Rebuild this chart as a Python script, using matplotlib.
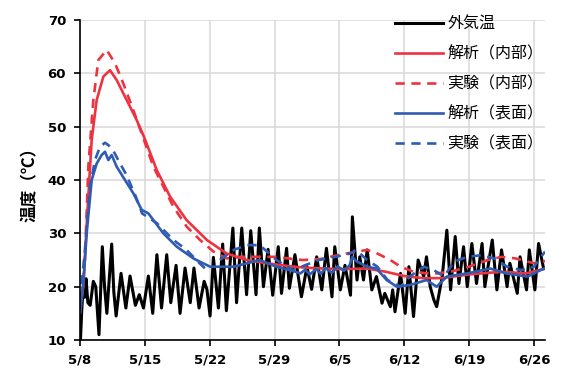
import matplotlib
matplotlib.use('Agg')
import matplotlib.pyplot as plt
import numpy as np

# days after 5/8
tick_days = [0, 7, 14, 21, 28, 35, 42, 49]
tick_labels = ['5/8', '5/15', '5/22', '5/29', '6/5', '6/12', '6/19', '6/26']

# outside air temperature
t_air = [0.0, 0.05, 0.2, 0.35, 0.5, 0.65, 0.85, 1.1, 1.44, 1.7, 2.05, 2.41, 2.65, 2.9,
         3.42, 3.65, 3.9, 4.43, 4.95, 5.4, 5.98, 6.4, 6.85, 7.38, 7.85, 8.3, 8.8,
         9.36, 9.8, 10.37, 10.8, 11.34, 11.9, 12.3, 12.85, 13.4, 13.7, 14.04, 14.4,
         14.94, 15.4, 15.8, 16.5, 16.9, 17.46, 17.98, 18.43, 19.0, 19.36, 19.8, 20.3,
         20.8, 21.4, 21.75, 22.3, 22.6, 23.2, 23.9, 24.5, 25.0, 25.55, 26.1, 26.6,
         27.2, 27.5, 28.1, 28.6, 29.2, 29.4, 29.9, 30.2, 30.6, 31.0, 31.5, 32.0,
         32.6, 32.9, 33.5, 33.75, 34.0, 34.6, 35.1, 35.5, 36.0, 36.5, 37.1, 37.4,
         37.8, 38.2, 38.5, 39.1, 39.6, 40.0, 40.5, 40.9, 41.4, 41.8, 42.3, 42.8,
         43.4, 43.7, 44.5, 45.0, 45.5, 46.1, 46.4, 47.2, 47.5, 48.2, 48.5, 49.1,
         49.5, 50.0]
v_air = [17, 10, 16, 20, 18, 21.5, 17, 16.5, 21, 20, 11, 27.5, 20, 15,
         28, 19, 14.5, 22.5, 16, 22, 16.5, 18.5, 16, 22, 15, 26, 16,
         26, 17, 24, 15, 23.5, 17, 23.5, 16, 21, 19.5, 14.5, 25.5,
         16, 28, 15.5, 31, 17, 31, 18.5, 30.5, 18.5, 31, 20, 27,
         18.4, 27.5, 18.75, 27.2, 19.7, 26, 18.1, 23.75, 19.5, 25.6, 19.4, 27.2,
         18.1, 27.5, 19.4, 24, 18.4, 33.1, 21.25, 25.6, 21.25, 26.9, 19.4, 21.9,
         16.9, 18.75, 16.25, 19.4, 15.3, 22.5, 15, 23.75, 14.4, 25, 21.9, 25.6,
         20, 17.5, 16.25, 21.9, 30.6, 19.4, 29.4, 20.6, 27.5, 20, 28.1, 20.6,
         28.1, 20, 28.75, 19.4, 26.9, 20, 24.4, 18.75, 25.6, 19.4, 26.9, 19.4,
         28.1, 23.75]

# analysis (inner)
t_ana_in = [0.0, 0.36, 0.79, 1.26, 1.8, 2.52, 3.24, 3.96, 5.04, 6.12, 6.91, 8.28, 9.72,
            11.5, 13.7, 15.8, 18.0, 20.2, 23.0, 25.0, 28.0, 31.0, 33.0, 35.0, 37.0,
            39.0, 42.0, 45.5, 48.2, 50.2]
v_ana_in = [16, 20, 33.75, 47.5, 55, 59.4, 60.6, 58.75, 55, 51.25, 48.1, 41.9, 36.9,
            32.5, 28.75, 26.25, 25, 24.4, 23.75, 23.5, 23.3, 23.4, 22.8, 22.0, 21.6,
            21.6, 22.3, 22.8, 22.5, 23.4]

# experiment (inner)
t_exp_in = [0.0, 0.18, 0.54, 0.9, 1.44, 1.98, 2.88, 3.78, 4.68, 5.76, 6.91, 7.92, 9.0,
            10.08, 11.52, 12.96, 14.4, 15.84, 17.3, 19.0, 21.0, 22.5, 24.0, 26.0, 27.0,
            29.0, 31.0, 32.0, 33.5, 34.6, 36.0, 38.0, 40.0, 42.0, 44.0, 45.5, 47.0,
            49.0, 50.2]
v_exp_in = [15, 17.5, 25.6, 42.5, 55, 62.5, 64.4, 61.9, 58.1, 53.1, 47.5, 42.5, 38.75,
            35, 31.25, 28.75, 26.6, 25.3, 25.6, 25.6, 25.6, 25.3, 25, 25.2, 25.6,
            26.3, 26.9, 26.3, 25, 23.75, 22.8, 22.4, 22.8, 23.75, 25, 25.6, 25.3,
            24.4, 24.8]

# analysis (surface)
t_ana_sf = [0.0, 0.36, 0.72, 1.26, 1.8, 2.34, 2.7, 3.06, 3.42, 3.96, 4.86, 5.76, 6.66,
            7.38, 7.92, 9.0, 10.44, 12.24, 14.04, 16.6, 19.4, 21.2, 22.7, 23.8, 24.3,
            24.8, 25.5, 26.0, 26.5, 27.2, 27.8, 28.5, 29.1, 29.4, 29.8, 31.0, 32.0,
            33.1, 34.2, 35.6, 37.4, 38.5, 39.6, 41.8, 44.3, 46.0, 48.3, 49.7, 50.2]
v_ana_sf = [15, 20.6, 30, 40, 43.1, 44.7, 45.3, 43.75, 44.7, 42.5, 40, 37.5, 34.4,
            33.75, 32.5, 30, 27.5, 25.3, 23.75, 23.75, 25, 23.75, 23.1, 22.5, 23.2,
            22.3, 23.3, 22.4, 23.5, 22.6, 23.8, 23.0, 24, 25.6, 24.8, 23.75, 23.4,
            21.25, 20, 20.3, 21.25, 20, 21.9, 22.5, 23.4, 22.5, 21.9, 23.1, 23.4]

# experiment (surface)
t_exp_sf = [0.0, 0.5, 1.08, 1.62, 2.16, 2.7, 3.1, 3.6, 4.2, 5.0, 6.0, 6.7, 8.3, 10.1,
            11.5, 12.9, 13.7, 14.0, 14.5, 15.1, 16.6, 18.0, 19.4, 21.2, 23.0, 24.4,
            25.8, 27.6, 29.2, 29.8, 31.0, 32.1, 33.2, 34.6, 35.6, 37.1, 38.2, 39.3,
            40.4, 41.8, 43.3, 44.7, 46.1, 47.6, 49.0, 50.2]
v_exp_sf = [17.5, 26.25, 38.75, 43.75, 46.25, 47, 46.5, 45.5, 43.5, 41, 37, 33.75,
            31.9, 28.75, 26.9, 24.4, 23.1, 23, np.nan, 25, 26.9, 27.8, 27.8, 25,
            23.1, 24.1, 25, 25.6, 26.25, 26.9, 25, 23.75, 21.25, 20, 21.9, 23.75,
            23.1, 21.9, 24.7, 25.6, 25.9, 25.3, 23.75, 23.1, 23.75, 26.6]

red = '#EE3340'
blue = '#2F5BB2'

plt.rcParams['font.family'] = ['DejaVu Sans']
jp = ['Noto Sans CJK JP', 'DejaVu Sans']

fig = plt.figure(figsize=(5.61, 3.72), dpi=100)
ax = fig.add_axes([0.1426, 0.086, 0.829, 0.86])

ax.plot(t_air, v_air, color='black', lw=2.2, label='外気温')
ax.plot(t_ana_in, v_ana_in, color=red, lw=1.9, label='解析（内部）')
ax.plot(t_exp_in, v_exp_in, color=red, lw=1.9, ls=(0, (3.5, 2.5)), label='実験（内部）')
ax.plot(t_ana_sf, v_ana_sf, color=blue, lw=1.9, label='解析（表面）')
ax.plot(t_exp_sf, v_exp_sf, color=blue, lw=1.9, ls=(0, (3.5, 2.5)), label='実験（表面）')

ax.set_xlim(0, 50.2)
ax.set_ylim(10, 70)
ax.set_xticks(tick_days)
ax.set_xticklabels(tick_labels)
ax.set_yticks(range(10, 71, 10))
ax.grid(True, color='#D9D9D9', lw=1.1)
ax.set_axisbelow(True)
for s in ['top', 'right']:
    ax.spines[s].set_visible(False)
for s in ['left', 'bottom']:
    ax.spines[s].set_linewidth(1.2)
ax.tick_params(direction='out', length=4, width=1.2, labelsize=9.5, pad=6)
for lab in ax.get_xticklabels() + ax.get_yticklabels():
    lab.set_fontweight('bold')

ax.set_ylabel('温度（℃）', family=jp, fontsize=12, fontweight='bold', labelpad=6)

leg = ax.legend(loc='upper right', bbox_to_anchor=(1.01, 1.035), frameon=False,
                prop={'family': jp, 'size': 11.5}, handlelength=3.0,
                handletextpad=0.3, labelspacing=0.82, borderaxespad=0)

fig.savefig('out.png', dpi=100)
